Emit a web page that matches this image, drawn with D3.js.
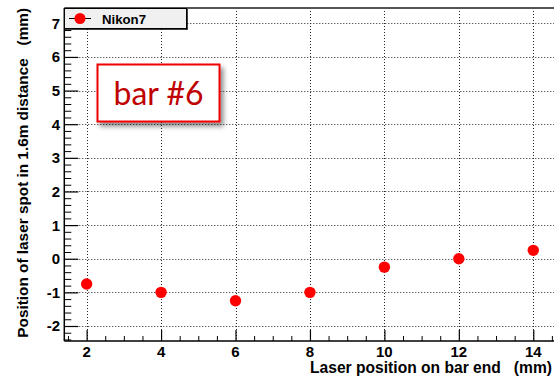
<!DOCTYPE html>
<html>
<head>
<meta charset="utf-8">
<script src="https://cdn.jsdelivr.net/npm/d3@7"></script>
<style>
  html, body { margin: 0; padding: 0; background: #fff; }
  svg { display: block; }
  .title { white-space: pre; }
</style>
</head>
<body>
<svg id="chart" width="554" height="376"></svg>
<script>
// Laser spot position versus laser position on the bar end
const laserPos = [2, 4, 6, 8, 10, 12, 14];
const spotPos = [-0.75, -1.0, -1.25, -1.0, -0.25, 0.0, 0.25];
const xTicks = [2, 4, 6, 8, 10, 12, 14];
const yTicks = [-2, -1, 0, 1, 2, 3, 4, 5, 6, 7];
const seriesName = "Nikon7";
const noteText = "bar #6";
const xTitle = "Laser position on bar end   (mm)";
const yTitle = "Position of laser spot in 1.6m distance   (mm)";

const svg = d3.select("#chart");
const frame = { left: 64.3, right: 555.6, top: 8, bottom: 341 };

const x = d3.scaleLinear().domain([1.4, 14.6]).range([frame.left, frame.right]);
const y = d3.scaleLinear().domain([-2.446, 7.455]).range([frame.bottom, frame.top]);

const boldFont = "'Liberation Sans', Arial, Helvetica, sans-serif";

// fit a text element to a given width by scaling its font size
function fitWidth(sel, size, width) {
  const w = sel.node().getComputedTextLength();
  if (w > 0) sel.attr("font-size", size * width / w);
}

// grid
const grid = svg.append("g").attr("stroke", "#222").attr("stroke-width", 1)
  .attr("stroke-dasharray", "1,2");
grid.selectAll(".gx").data(xTicks).join("line")
  .attr("x1", d => Math.round(x(d)) + 0.5).attr("x2", d => Math.round(x(d)) + 0.5)
  .attr("y1", frame.top).attr("y2", frame.bottom);
grid.selectAll(".gy").data(yTicks).join("line")
  .attr("y1", d => Math.round(y(d)) + 0.5).attr("y2", d => Math.round(y(d)) + 0.5)
  .attr("x1", frame.left).attr("x2", frame.right);

// x axis: ticks point up into the frame
const xMinor = d3.range(1.5, 14.51, 0.5).filter(v => !xTicks.includes(v));
const xAxis = svg.append("g").attr("transform", `translate(0,${frame.bottom})`)
  .call(d3.axisTop(x).tickValues(xTicks).tickSize(11).tickFormat(""))
  .call(g => g.select(".domain").remove());
xAxis.selectAll("line").attr("stroke", "#000").attr("stroke-width", 1.2);
const xAxisMinor = svg.append("g").attr("transform", `translate(0,${frame.bottom})`)
  .call(d3.axisTop(x).tickValues(xMinor).tickSize(5).tickFormat(""))
  .call(g => g.select(".domain").remove());
xAxisMinor.selectAll("line").attr("stroke", "#000").attr("stroke-width", 1);

svg.append("g").selectAll("text").data(xTicks).join("text")
  .attr("x", d => x(d)).attr("y", 357)
  .attr("text-anchor", "middle")
  .attr("font-family", boldFont).attr("font-weight", "bold").attr("font-size", 15)
  .text(d => d);

// y axis: ticks point right into the frame
const yMinor = d3.range(-2.4, 7.41, 0.2).map(v => Math.round(v * 10) / 10)
  .filter(v => !yTicks.includes(v));
const yAxis = svg.append("g").attr("transform", `translate(${frame.left},0)`)
  .call(d3.axisRight(y).tickValues(yTicks).tickSize(14).tickFormat(""))
  .call(g => g.select(".domain").remove());
yAxis.selectAll("line").attr("stroke", "#000").attr("stroke-width", 1.2);
const yAxisMinor = svg.append("g").attr("transform", `translate(${frame.left},0)`)
  .call(d3.axisRight(y).tickValues(yMinor).tickSize(7).tickFormat(""))
  .call(g => g.select(".domain").remove());
yAxisMinor.selectAll("line").attr("stroke", "#000").attr("stroke-width", 1);

svg.append("g").selectAll("text").data(yTicks).join("text")
  .attr("x", 60).attr("y", d => y(d) + 5.5)
  .attr("text-anchor", "end")
  .attr("font-family", boldFont).attr("font-weight", "bold").attr("font-size", 15)
  .text(d => d);

// frame
svg.append("line").attr("x1", frame.left).attr("x2", frame.right)
  .attr("y1", frame.top).attr("y2", frame.top).attr("stroke", "#555").attr("stroke-width", 2);
svg.append("line").attr("x1", frame.left).attr("x2", frame.left)
  .attr("y1", frame.top).attr("y2", frame.bottom).attr("stroke", "#000").attr("stroke-width", 1.5);
svg.append("line").attr("x1", frame.left).attr("x2", frame.right)
  .attr("y1", frame.bottom).attr("y2", frame.bottom).attr("stroke", "#000").attr("stroke-width", 1.5);

// axis titles
const yt = svg.append("text").attr("class", "title")
  .attr("transform", `translate(28,${frame.top}) rotate(-90)`)
  .attr("text-anchor", "end")
  .attr("font-family", boldFont).attr("font-weight", "bold").attr("font-size", 14)
  .text(yTitle);
fitWidth(yt, 14, 330);
const xt = svg.append("text").attr("class", "title")
  .attr("x", 552).attr("y", 373)
  .attr("text-anchor", "end")
  .attr("font-family", boldFont).attr("font-weight", "bold").attr("font-size", 15)
  .text(xTitle);
fitWidth(xt, 15, 242);

// data points
svg.append("g").selectAll("circle").data(laserPos).join("circle")
  .attr("cx", (d) => x(d)).attr("cy", (d, i) => y(spotPos[i]))
  .attr("r", 5.7).attr("fill", "#ff0000");

// legend
const leg = svg.append("g");
leg.append("rect").attr("x", 64.5).attr("y", 8.5).attr("width", 122).attr("height", 20)
  .attr("fill", "#f0f0f0").attr("stroke", "#000").attr("stroke-width", 1);
leg.append("line").attr("x1", 187).attr("x2", 187).attr("y1", 9).attr("y2", 29.5)
  .attr("stroke", "#000").attr("stroke-width", 1.5);
leg.append("line").attr("x1", 65).attr("x2", 187.5).attr("y1", 29).attr("y2", 29)
  .attr("stroke", "#000").attr("stroke-width", 1.5);
leg.append("line").attr("x1", 69).attr("x2", 91).attr("y1", 18.5).attr("y2", 18.5)
  .attr("stroke", "#000").attr("stroke-width", 1);
leg.append("circle").attr("cx", 80).attr("cy", 18.5).attr("r", 5.5).attr("fill", "#ff0000");
const lt = leg.append("text").attr("x", 102).attr("y", 23.5)
  .attr("font-family", boldFont).attr("font-weight", "bold").attr("font-size", 13)
  .text(seriesName);
fitWidth(lt, 13, 44);

// annotation box with drop shadow
const defs = svg.append("defs");
const f = defs.append("filter").attr("id", "shadow")
  .attr("x", "-20%").attr("y", "-20%").attr("width", "150%").attr("height", "160%");
f.append("feGaussianBlur").attr("in", "SourceAlpha").attr("stdDeviation", 2.5).attr("result", "b");
f.append("feOffset").attr("in", "b").attr("dx", 3).attr("dy", 4).attr("result", "o");
f.append("feComponentTransfer").attr("in", "o").attr("result", "s")
  .append("feFuncA").attr("type", "linear").attr("slope", 0.45);
const m = f.append("feMerge");
m.append("feMergeNode").attr("in", "s");
m.append("feMergeNode").attr("in", "SourceGraphic");

const note = svg.append("g");
note.append("rect").attr("x", 97.5).attr("y", 64.5).attr("width", 122).attr("height", 57)
  .attr("fill", "#fff").attr("stroke", "#f00000").attr("stroke-width", 2)
  .attr("filter", "url(#shadow)");
const nt = note.append("text").attr("x", 113.5).attr("y", 105)
  .attr("font-family", "Lato, 'Open Sans', sans-serif").attr("font-size", 33)
  .attr("fill", "#c00000")
  .text(noteText);
fitWidth(nt, 33, 90);
</script>
</body>
</html>
